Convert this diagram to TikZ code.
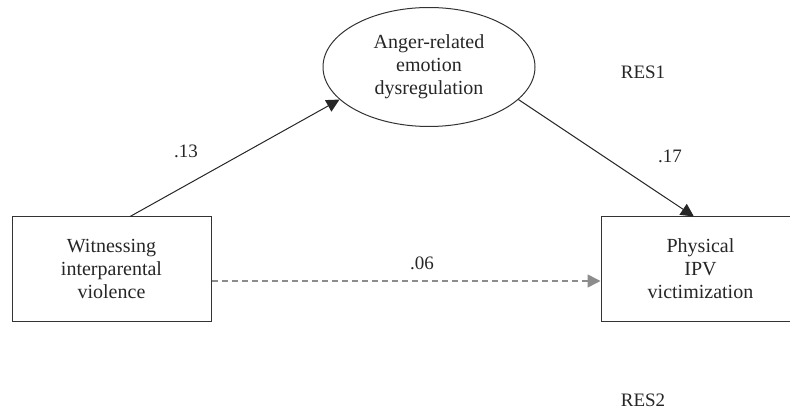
\documentclass[tikz,border=0pt]{standalone}
\usepackage{fontspec}
\setmainfont{Liberation Serif}
\usetikzlibrary{arrows.meta,calc,shapes.geometric}
\begin{document}
\begin{tikzpicture}[x=1pt,y=-1pt,
  txt/.style={font=\fontsize{20}{23}\selectfont,text=black!85,align=center},
  boxnode/.style={txt,draw=black!80,line width=1pt,minimum width=199pt,minimum height=104pt,inner sep=0pt},
  ellnode/.style={txt,ellipse,draw=black!80,line width=1pt,minimum width=212pt,minimum height=119pt,inner sep=0pt},
  lbl/.style={font=\fontsize{19}{22}\selectfont,text=black!85},
  path/.style={draw=black!85,line width=1pt,-{Triangle[length=13pt,width=13pt]}},
  dpath/.style={draw=black!45,line width=1.6pt,dash pattern=on 6pt off 4pt,-{Triangle[length=13pt,width=13pt]}}]
\useasboundingbox (0,0) rectangle (790,414);
\node[boxnode] (wit) at (111.5,269) {Witnessing\\interparental\\violence};
\node[boxnode] (ipv) at (700.5,269) {Physical\\IPV\\victimization};
\node[ellnode] (ang) at (429,67) {Anger-related\\emotion\\dysregulation};
\node[lbl] (res1) at (643,72) {RES1};
\node[lbl] (res2) at (643,400) {RES2};
\draw[path] ($(wit.north west)!0.593!(wit.north east)$) -- (ang.200);
\draw[path] (ang.340) -- ($(ipv.north west)!0.467!(ipv.north east)$);
\draw[dpath] (wit.east |- 0,281) -- (ipv.west |- 0,281);
\node[lbl] (l13) at (186,151) {.13};
\node[lbl] (l17) at (670,156) {.17};
\node[lbl] (l06) at (422,263) {.06};
\end{tikzpicture}
\end{document}
